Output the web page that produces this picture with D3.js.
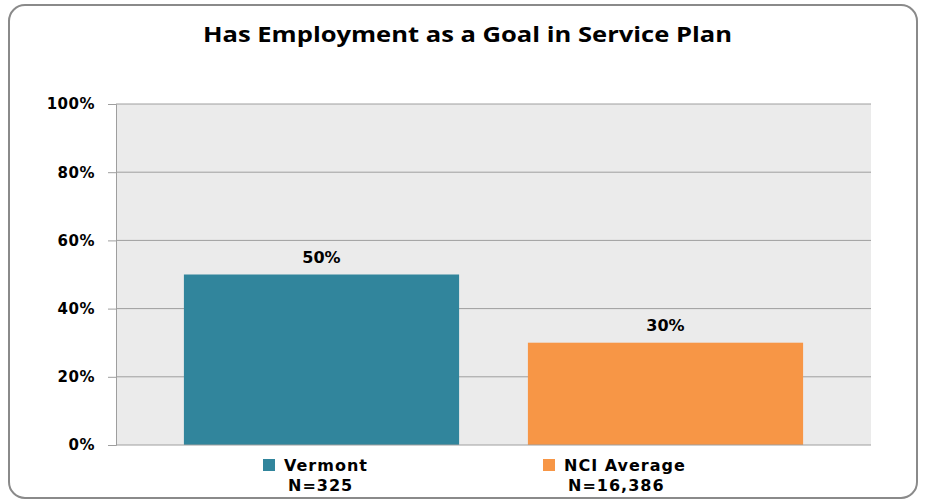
<!DOCTYPE html>
<html>
<head>
<meta charset="utf-8">
<script src="https://cdn.jsdelivr.net/npm/d3@7"></script>
<style>
  html, body { margin: 0; padding: 0; background: #ffffff; }
  svg { display: block; }
</style>
</head>
<body>
<script>
const title = "Has Employment as a Goal in Service Plan";
const categories = ["Vermont", "NCI Average"];
const sampleSizes = ["N=325", "N=16,386"];
const values = [50, 30];
const valueLabels = ["50%", "30%"];
const tickValues = [0, 20, 40, 60, 80, 100];
const tickLabels = ["0%", "20%", "40%", "60%", "80%", "100%"];
const colors = ["#31859c", "#f79646"];

const W = 926, H = 502;
const svg = d3.select("body").append("svg").attr("width", W).attr("height", H);

// frame
svg.append("rect")
  .attr("x", 9).attr("y", 5).attr("width", 908).attr("height", 493)
  .attr("rx", 16).attr("ry", 16)
  .attr("fill", "#ffffff").attr("stroke", "#8a8a8a").attr("stroke-width", 2);

// title
svg.append("text")
  .attr("x", 203).attr("y", 42)
  .attr("textLength", 529).attr("lengthAdjust", "spacingAndGlyphs")
  .attr("font-family", "'Open Sans', sans-serif")
  .attr("font-weight", "bold")
  .attr("font-size", 21)
  .attr("fill", "#000")
  .text(title);

const plot = { left: 116, right: 871, top: 104, bottom: 445 };

const y = d3.scaleLinear().domain([0, 100]).range([plot.bottom, plot.top]);
const x = d3.scaleBand().domain(categories).range([149.5, 837.5])
  .paddingInner(0.2).paddingOuter(0.1);

// plot background
svg.append("rect")
  .attr("x", plot.left).attr("y", plot.top)
  .attr("width", plot.right - plot.left).attr("height", plot.bottom - plot.top)
  .attr("fill", "#ebebeb");

// gridlines
svg.append("g").selectAll("line").data(tickValues.filter(d => d > 0)).join("line")
  .attr("x1", plot.left).attr("x2", plot.right)
  .attr("y1", d => y(d)).attr("y2", d => y(d))
  .attr("stroke", "#9e9e9e").attr("stroke-width", 1);

// bars
svg.append("g").selectAll("rect").data(categories).join("rect")
  .attr("x", d => x(d))
  .attr("y", (d, i) => y(values[i]))
  .attr("width", x.bandwidth())
  .attr("height", (d, i) => y(0) - y(values[i]))
  .attr("fill", (d, i) => colors[i]);

const txtFont = "'DejaVu Sans', Verdana, sans-serif";

// value labels
svg.append("g").selectAll("text").data(categories).join("text")
  .attr("x", d => x(d) + x.bandwidth() / 2)
  .attr("y", (d, i) => y(values[i]) - 12)
  .attr("text-anchor", "middle")
  .attr("font-family", txtFont)
  .attr("font-weight", "bold")
  .attr("font-size", 16)
  .attr("fill", "#000")
  .text((d, i) => valueLabels[i]);

// y axis
const yAxis = d3.axisLeft(y).tickValues(tickValues)
  .tickFormat((d, i) => tickLabels[i]).tickSize(8).tickPadding(13);
const gy = svg.append("g").attr("transform", `translate(${plot.left},0)`).call(yAxis);
gy.select(".domain").attr("stroke", "#9e9e9e");
gy.selectAll(".tick line").attr("stroke", "#9e9e9e");
gy.selectAll(".tick text")
  .attr("font-family", txtFont)
  .attr("font-weight", "bold")
  .attr("font-size", 15)
  .attr("letter-spacing", 0.5)
  .attr("fill", "#000");

// x baseline
svg.append("line")
  .attr("x1", plot.left).attr("x2", plot.right)
  .attr("y1", y(0)).attr("y2", y(0))
  .attr("stroke", "#9e9e9e").attr("stroke-width", 1);

// legend
const legendX = [263, 543];
const lg = svg.append("g").selectAll("g").data(categories).join("g")
  .attr("transform", (d, i) => `translate(${legendX[i]},0)`);
lg.append("rect")
  .attr("x", 0).attr("y", 459).attr("width", 12).attr("height", 12)
  .attr("fill", (d, i) => colors[i]);
lg.append("text")
  .attr("x", 21).attr("y", 471)
  .attr("font-family", txtFont)
  .attr("font-weight", "bold").attr("font-size", 16).attr("letter-spacing", 1)
  .attr("fill", "#000")
  .text(d => d);
lg.append("text")
  .attr("x", 25).attr("y", 491)
  .attr("font-family", txtFont)
  .attr("font-weight", "bold").attr("font-size", 16).attr("letter-spacing", 1)
  .attr("fill", "#000")
  .text((d, i) => sampleSizes[i]);
</script>
</body>
</html>
